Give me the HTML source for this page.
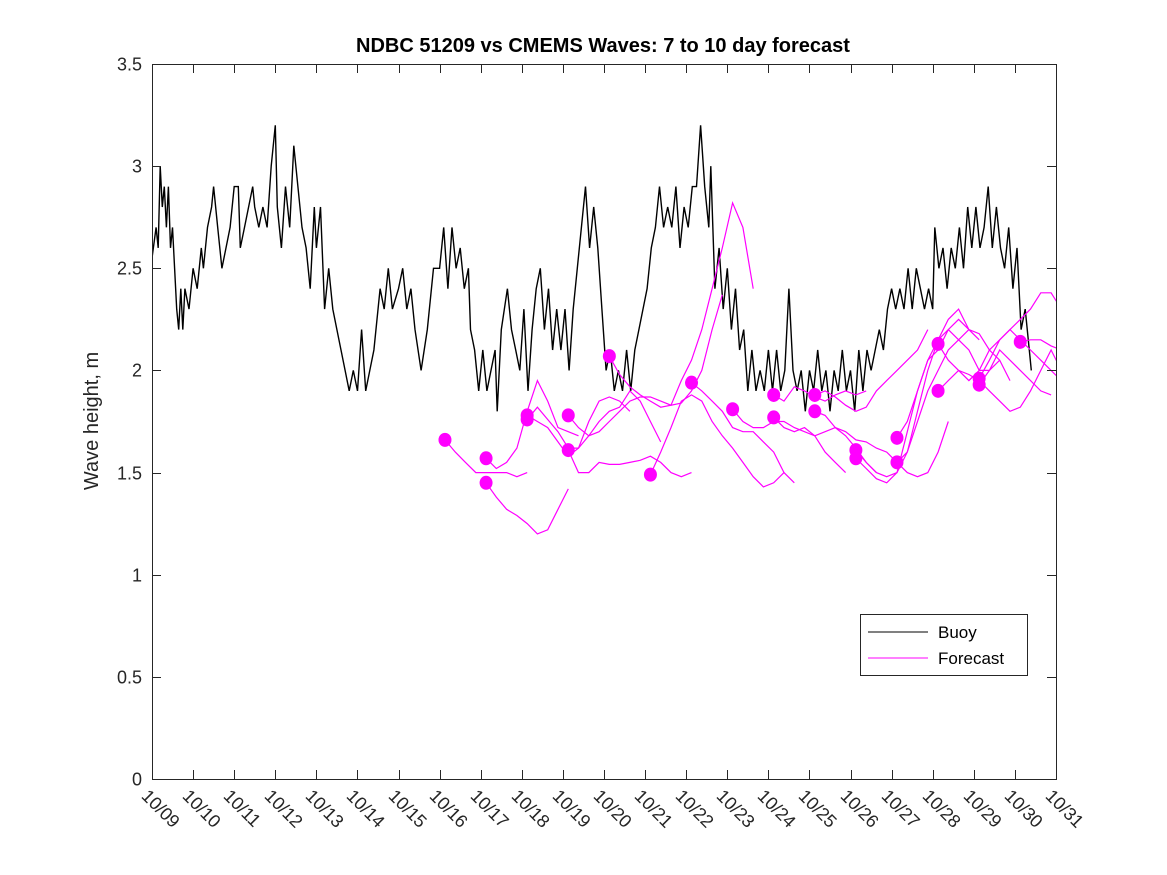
<!DOCTYPE html>
<html><head><meta charset="utf-8"><style>
body{margin:0;background:#fff;}
svg{display:block;font-family:"Liberation Sans",sans-serif;}
</style></head><body>
<svg id="chart" width="1167" height="875">
<rect x="0" y="0" width="1167" height="875" fill="#fff"/>
<text x="603" y="52" text-anchor="middle" font-size="20" font-weight="bold" fill="#000">NDBC 51209 vs CMEMS Waves: 7 to 10 day forecast</text>
<text transform="translate(98,421) rotate(-90)" text-anchor="middle" font-size="20" fill="#262626">Wave height, m</text>
<g id="plot"></g>
<g id="axes"></g>
<g>
<rect x="860.5" y="614.5" width="167" height="61" fill="#fff" stroke="#262626" stroke-width="1"/>
<line x1="868" y1="632" x2="928" y2="632" stroke="#000" stroke-width="1"/>
<text x="938" y="638" font-size="17" fill="#000">Buoy</text>
<line x1="868" y1="658" x2="928" y2="658" stroke="#ff00ff" stroke-width="1"/>
<text x="938" y="664" font-size="17" fill="#000">Forecast</text>
</g>
</svg>
<script>
const xTickLabels=["10/09","10/10","10/11","10/12","10/13","10/14","10/15","10/16","10/17","10/18","10/19","10/20","10/21","10/22","10/23","10/24","10/25","10/26","10/27","10/28","10/29","10/30","10/31"];
const yTicks=[0,0.5,1,1.5,2,2.5,3,3.5];
const yTickLabels=["0","0.5","1","1.5","2","2.5","3","3.5"];
const buoyDays=[0,.1,.15,.2,.25,.3,.35,.4,.45,.5,.55,.6,.65,.7,.75,.8,.9,1.0,1.1,1.2,1.25,1.35,1.45,1.5,1.6,1.7,1.8,1.9,2.0,2.1,2.15,2.25,2.35,2.45,2.5,2.6,2.7,2.8,2.9,3.0,3.05,3.15,3.25,3.35,3.45,3.55,3.65,3.75,3.85,3.95,4.0,4.1,4.2,4.3,4.4,4.5,4.6,4.7,4.8,4.9,5.0,5.1,5.2,5.3,5.4,5.55,5.65,5.75,5.85,6.0,6.1,6.2,6.3,6.4,6.55,6.7,6.85,7.0,7.1,7.2,7.3,7.4,7.5,7.6,7.7,7.75,7.85,7.95,8.05,8.15,8.25,8.35,8.4,8.5,8.65,8.75,8.85,8.95,9.05,9.15,9.25,9.35,9.45,9.55,9.65,9.75,9.85,9.95,10.05,10.15,10.25,10.35,10.45,10.55,10.65,10.75,10.85,10.95,11.05,11.15,11.25,11.35,11.45,11.55,11.65,11.75,11.85,11.95,12.05,12.15,12.25,12.35,12.45,12.55,12.65,12.75,12.85,12.95,13.05,13.15,13.25,13.35,13.45,13.55,13.6,13.7,13.8,13.9,14.0,14.1,14.2,14.3,14.4,14.5,14.6,14.7,14.8,14.9,15.0,15.1,15.2,15.3,15.4,15.5,15.6,15.7,15.8,15.9,16.0,16.1,16.2,16.3,16.4,16.5,16.6,16.7,16.8,16.9,17.0,17.1,17.2,17.3,17.4,17.5,17.6,17.7,17.8,17.9,18.0,18.1,18.2,18.3,18.4,18.5,18.6,18.7,18.8,18.9,19.0,19.05,19.15,19.25,19.35,19.45,19.55,19.65,19.75,19.85,19.95,20.05,20.15,20.25,20.35,20.45,20.55,20.65,20.75,20.85,20.95,21.05,21.15,21.25,21.35,21.4];
const buoyHeights=[2.55,2.7,2.6,3.0,2.8,2.9,2.7,2.9,2.6,2.7,2.5,2.3,2.2,2.4,2.2,2.4,2.3,2.5,2.4,2.6,2.5,2.7,2.8,2.9,2.7,2.5,2.6,2.7,2.9,2.9,2.6,2.7,2.8,2.9,2.8,2.7,2.8,2.7,3.0,3.2,2.8,2.6,2.9,2.7,3.1,2.9,2.7,2.6,2.4,2.8,2.6,2.8,2.3,2.5,2.3,2.2,2.1,2.0,1.9,2.0,1.9,2.2,1.9,2.0,2.1,2.4,2.3,2.5,2.3,2.4,2.5,2.3,2.4,2.2,2.0,2.2,2.5,2.5,2.7,2.4,2.7,2.5,2.6,2.4,2.5,2.2,2.1,1.9,2.1,1.9,2.0,2.1,1.8,2.2,2.4,2.2,2.1,2.0,2.3,1.9,2.2,2.4,2.5,2.2,2.4,2.1,2.3,2.1,2.3,2.0,2.3,2.5,2.7,2.9,2.6,2.8,2.6,2.3,2.0,2.1,1.9,2.0,1.9,2.1,1.9,2.1,2.2,2.3,2.4,2.6,2.7,2.9,2.7,2.8,2.7,2.9,2.6,2.8,2.7,2.9,2.9,3.2,2.9,2.7,3.0,2.4,2.6,2.3,2.5,2.2,2.4,2.1,2.2,1.9,2.1,1.9,2.0,1.9,2.1,1.9,2.1,1.9,2.0,2.4,2.0,1.9,2.0,1.8,2.0,1.9,2.1,1.9,2.0,1.8,2.0,1.9,2.1,1.9,2.0,1.8,2.1,1.9,2.1,2.0,2.1,2.2,2.1,2.3,2.4,2.3,2.4,2.3,2.5,2.3,2.5,2.4,2.3,2.4,2.3,2.7,2.5,2.6,2.4,2.6,2.5,2.7,2.5,2.8,2.6,2.8,2.6,2.7,2.9,2.6,2.8,2.6,2.5,2.7,2.4,2.6,2.2,2.3,2.1,2.0];
const forecastStartDays=[7.13,8.13,8.13,9.13,9.13,10.13,10.13,11.13,12.13,13.13,14.13,15.13,15.13,16.13,16.13,17.13,17.13,18.13,18.13,19.13,19.13,20.13,20.13,21.13];
const forecastStep=0.25;
const forecastSeries=[
[1.66,1.6,1.55,1.5,1.5,1.5,1.5,1.48,1.5],
[1.57,1.52,1.55,1.62,1.8,1.95,1.85,1.72,1.7,1.68],
[1.45,1.38,1.32,1.29,1.25,1.2,1.22,1.32,1.42],
[1.78,1.75,1.72,1.65,1.58,1.62,1.75,1.85,1.87,1.85,1.8],
[1.76,1.82,1.76,1.7,1.62,1.62,1.68,1.75,1.8,1.82,1.9,1.85,1.75,1.65],
[1.78,1.72,1.68,1.7,1.75,1.8,1.85,1.87,1.87,1.85,1.83,1.84,1.9,2.0,2.2,2.37],
[1.61,1.5,1.5,1.55,1.54,1.54,1.55,1.56,1.58,1.55,1.5,1.48,1.5],
[2.07,1.98,1.92,1.88,1.85,1.82,1.83,1.95,2.05,2.2,2.4,2.6,2.82,2.7,2.4],
[1.49,1.6,1.72,1.85,1.88,1.85,1.75,1.68,1.62,1.55,1.48,1.43,1.45,1.5],
[1.94,1.9,1.85,1.8,1.72,1.7,1.7,1.65,1.6,1.5,1.45],
[1.81,1.75,1.72,1.72,1.75,1.75,1.72,1.7,1.68,1.6,1.55,1.5],
[1.88,1.85,1.92,1.9,1.87,1.85,1.88,1.9,1.88,1.9],
[1.77,1.72,1.7,1.72,1.68,1.7,1.72,1.68,1.62,1.55,1.5],
[1.88,1.9,1.87,1.83,1.8,1.82,1.9,1.95,2.0,2.05,2.1,2.2],
[1.80,1.78,1.72,1.7,1.66,1.65,1.62,1.6,1.55,1.5,1.48,1.5,1.6,1.75],
[1.61,1.55,1.5,1.48,1.5,1.6,1.8,2.0,2.15,2.25,2.3,2.2,2.15],
[1.57,1.52,1.47,1.45,1.5,1.7,1.9,2.05,2.1,2.2,2.25,2.2],
[1.67,1.75,1.9,2.05,2.15,2.2,2.15,2.1,2.0,2.0,2.05],
[1.55,1.6,1.75,1.9,2.0,2.1,2.15,2.2,2.18,2.1,2.05,1.95],
[2.13,2.05,2.0,1.95,2.0,2.1,2.15,2.2,2.25,2.3,2.38,2.38,2.3,2.2],
[1.90,1.95,2.0,1.98,1.95,1.9,1.85,1.8,1.82,1.9,2.0,2.1,2.0,1.9],
[1.96,2.05,2.15,2.2,2.15,2.1,2.05,2.0,1.95,1.9,1.85,1.8,1.75],
[1.93,2.0,2.1,2.05,2.0,1.95,1.9,1.88],
[2.14,2.15,2.15,2.12,2.1,2.08,2.1,2.25,2.36]];

const NS="http://www.w3.org/2000/svg";
const L=152,R=1056,T=64,B=779;
function xs(d){return L+d*(R-L)/22;}
function ys(v){return B-v*(B-T)/3.5;}
const plot=document.getElementById('plot');
const axes=document.getElementById('axes');
function mk(tag,attrs,parent){const e=document.createElementNS(NS,tag);for(const k in attrs)e.setAttribute(k,attrs[k]);parent.appendChild(e);return e;}

const defs=mk('defs',{},plot);
const cp=mk('clipPath',{id:'clip'},defs);
mk('rect',{x:L,y:T,width:R-L,height:B-T},cp);
mk('rect',{x:L+0.5,y:T+0.5,width:R-L,height:B-T,fill:'#fff',stroke:'none'},plot);

const cg=mk('g',{'clip-path':'url(#clip)'},plot);
let pts=buoyDays.map((d,i)=>xs(d).toFixed(1)+','+ys(buoyHeights[i]).toFixed(1)).join(' ');
const bl=mk('polyline',{points:pts,fill:'none',stroke:'#000','stroke-width':1.4},cg);



forecastSeries.forEach((s,i)=>{
  const d0=forecastStartDays[i];
  const p=s.map((v,j)=>xs(d0+j*forecastStep).toFixed(1)+','+ys(v).toFixed(1)).join(' ');
  const pl=mk('polyline',{points:p,fill:'none',stroke:'#ff00ff','stroke-width':1.2},cg);
  
  
});
forecastSeries.forEach((s,i)=>{
  const c=mk('ellipse',{cx:xs(forecastStartDays[i]),cy:ys(s[0]),rx:6.5,ry:7,fill:'#ff00ff'},cg);
  
  
});

mk('rect',{x:L+0.5,y:T+0.5,width:R-L,height:B-T,fill:'none',stroke:'#262626','stroke-width':1},axes);
yTicks.forEach((v,i)=>{
  const y=Math.round(ys(v))+0.5;
  mk('line',{x1:L,y1:y,x2:L+9,y2:y,stroke:'#262626'},axes);
  mk('line',{x1:R-9,y1:y,x2:R,y2:y,stroke:'#262626'},axes);
  const t=mk('text',{x:L-10,y:y+6,'text-anchor':'end','font-size':18,fill:'#262626'},axes);
  t.textContent=yTickLabels[i];
  
  
});
xTickLabels.forEach((lab,i)=>{
  const x=Math.round(xs(i))+0.5;
  mk('line',{x1:x,y1:B,x2:x,y2:B-9,stroke:'#262626'},axes);
  mk('line',{x1:x,y1:T,x2:x,y2:T+9,stroke:'#262626'},axes);
  const t=mk('text',{x:0,y:0,'font-size':18,fill:'#262626',transform:`translate(${x-12},${B+18}) rotate(45)`},axes);
  t.textContent=lab;
  
  
});
</script>
</body></html>
